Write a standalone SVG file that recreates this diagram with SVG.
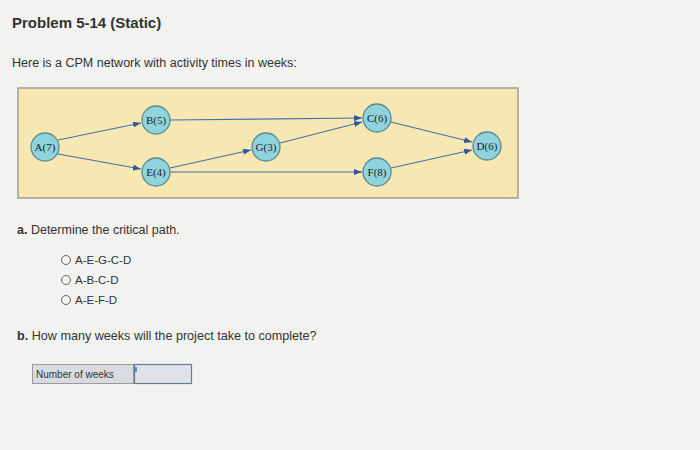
<svg xmlns="http://www.w3.org/2000/svg" width="700" height="450" viewBox="0 0 700 450">
<style>
.t{font-family:"Liberation Sans",Arial,sans-serif;fill:#333}
.n circle{fill:#8fd3dc;stroke:#5a8a8e;stroke-width:1.3}
.n text{font-family:"Liberation Serif","Times New Roman",serif;font-size:11px;fill:#222;text-anchor:middle}
.e line{stroke:#4a6fa5;stroke-width:1.1;marker-end:url(#ah)}
.r{fill:none;stroke:#666;stroke-width:1}
</style>
<defs><marker id="ah" markerWidth="8" markerHeight="6" refX="8" refY="3" orient="auto" markerUnits="userSpaceOnUse"><path d="M0,0L8,3L0,6z" fill="#2d5a9a"/></marker></defs>
<rect width="700" height="450" fill="#f2f2f0"/>
<text class="t" x="12" y="28" font-size="15" font-weight="bold" fill="#222">Problem 5-14 (Static)</text>
<text class="t" x="12" y="67" font-size="12.5">Here is a CPM network with activity times in weeks:</text>
<rect x="18" y="88" width="500" height="110" fill="#f7e7b2" stroke="#8a8a80" stroke-width="1.2"/>
<g class="e">
<line x1="58" y1="140" x2="141" y2="123"/>
<line x1="58" y1="154" x2="141" y2="169"/>
<line x1="170" y1="120" x2="362" y2="118"/>
<line x1="170" y1="168" x2="251" y2="150"/>
<line x1="170" y1="172" x2="362" y2="172"/>
<line x1="280" y1="143" x2="362" y2="122"/>
<line x1="391" y1="122" x2="472" y2="142"/>
<line x1="391" y1="168" x2="472" y2="150"/>
</g>
<g id="A" class="n"><circle cx="45" cy="147" r="14"/><text x="45" y="151">A(7)</text></g>
<g id="B" class="n"><circle cx="156" cy="120" r="14"/><text x="156" y="124">B(5)</text></g>
<g id="E" class="n"><circle cx="156" cy="172" r="14"/><text x="156" y="176">E(4)</text></g>
<g id="G" class="n"><circle cx="266" cy="147" r="14"/><text x="266" y="151">G(3)</text></g>
<g id="C" class="n"><circle cx="377" cy="118" r="14"/><text x="377" y="122">C(6)</text></g>
<g id="F" class="n"><circle cx="377" cy="172" r="14"/><text x="377" y="176">F(8)</text></g>
<g id="D" class="n"><circle cx="487" cy="146" r="14"/><text x="487" y="150">D(6)</text></g>
<text class="t" x="17" y="234" font-size="12.5"><tspan font-weight="bold">a.</tspan> Determine the critical path.</text>
<circle class="r" cx="66" cy="260" r="4.5"/><text class="t" x="75" y="264" font-size="11.5">A-E-G-C-D</text>
<circle class="r" cx="66" cy="280" r="4.5"/><text class="t" x="75" y="284" font-size="11.5">A-B-C-D</text>
<circle class="r" cx="66" cy="300" r="4.5"/><text class="t" x="75" y="304" font-size="11.5">A-E-F-D</text>
<text class="t" x="17" y="340" font-size="12.6"><tspan font-weight="bold">b.</tspan> How many weeks will the project take to complete?</text>
<rect x="32.5" y="364.5" width="101" height="19" fill="#d9dbe0" stroke="#999"/>
<text class="t" x="36" y="378" font-size="10">Number of weeks</text>
<rect x="134.5" y="364.5" width="57" height="19" fill="#dfe2e8" stroke="#6b7b95" stroke-width="1.2"/>
<line x1="136" y1="367" x2="136" y2="372" stroke="#2d6bd6" stroke-width="1.5"/>
</svg>
